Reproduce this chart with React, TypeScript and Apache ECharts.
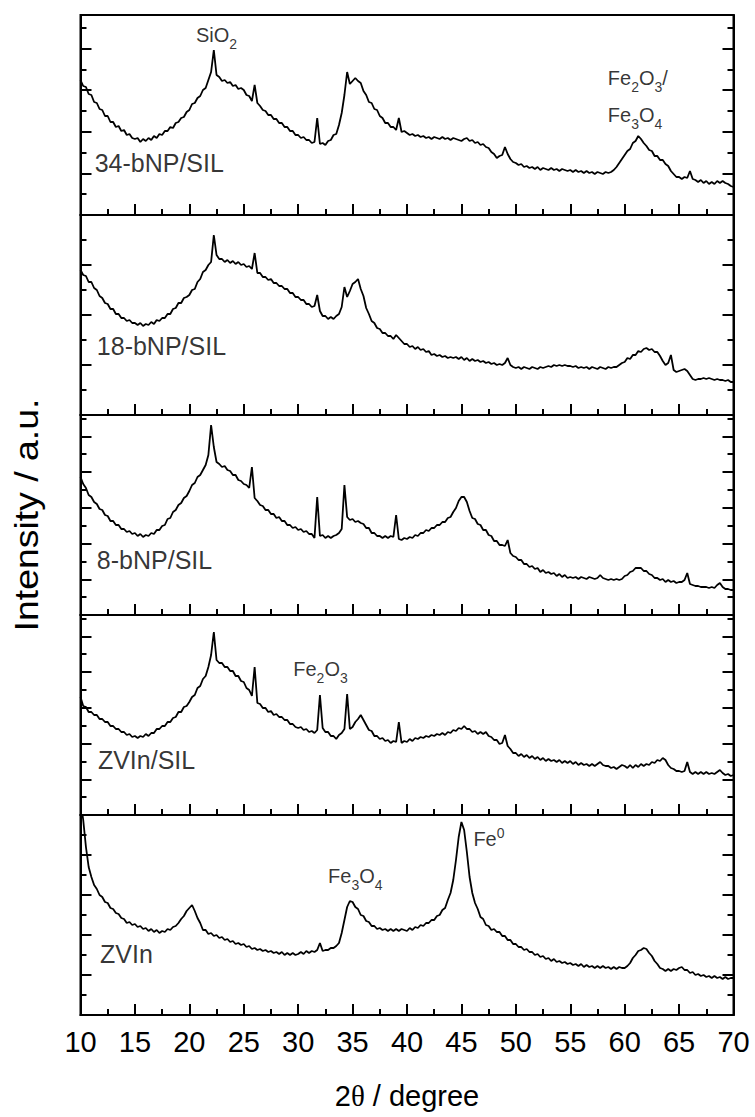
import React, { useEffect, useRef } from "react";
import * as echarts from "echarts";

// 2θ grid: 10° to 70°, step 0.25° (241 points per pattern)
const X_START = 10;
const X_STEP = 0.25;

// Intensities (a.u.), one value per 0.25°
const s34bNP = [
  135, 129, 128, 121, 120, 113, 112, 106, 105, 99, 99, 93, 93, 88, 89, 84, 85, 80, 81, 77,
  76, 77, 73, 76, 74, 77, 75, 79, 77, 81, 80, 84, 84, 88, 87, 92, 93, 97, 98, 103,
  105, 111, 112, 117, 119, 125, 127, 135, 143, 165, 140, 138, 134, 135, 132, 133, 129, 130, 126, 127,
  125, 120, 119, 114, 130, 112, 109, 105, 104, 100, 100, 96, 96, 92, 92, 88, 88, 84, 84, 80,
  80, 77, 78, 75, 75, 72, 73, 97, 71, 72, 70, 74, 75, 80, 81, 90, 102, 120, 143, 131,
  134, 137, 134, 132, 124, 120, 113, 112, 106, 105, 99, 97, 92, 92, 88, 88, 85, 97, 83, 84,
  82, 80, 81, 79, 80, 78, 79, 77, 78, 76, 78, 77, 76, 78, 76, 77, 75, 77, 76, 75,
  74, 76, 77, 74, 75, 72, 73, 70, 71, 68, 67, 63, 61, 57, 59, 60, 68, 61, 56, 53,
  52, 50, 51, 48, 49, 47, 48, 46, 48, 45, 47, 46, 45, 47, 45, 46, 44, 46, 45, 44,
  45, 43, 45, 43, 44, 42, 44, 42, 43, 41, 43, 42, 41, 43, 42, 43, 45, 48, 52, 56,
  60, 64, 66, 72, 74, 79, 76, 72, 69, 65, 64, 59, 59, 55, 55, 51, 49, 44, 41, 38,
  38, 36, 38, 37, 44, 36, 35, 33, 35, 32, 34, 31, 33, 31, 34, 32, 34, 32, 31, 29,
  28,
];

const s18bNP = [
  145, 140, 139, 133, 133, 127, 125, 119, 117, 112, 111, 106, 106, 101, 101, 97, 97, 94, 95, 92,
  92, 90, 92, 89, 91, 90, 93, 91, 95, 94, 97, 97, 101, 101, 106, 107, 112, 112, 117, 118,
  120, 125, 126, 133, 136, 143, 145, 150, 153, 180, 160, 156, 156, 153, 155, 152, 154, 151, 153, 150,
  151, 148, 149, 146, 162, 142, 142, 138, 138, 135, 136, 132, 132, 129, 129, 126, 126, 122, 122, 118,
  118, 115, 115, 111, 111, 108, 109, 120, 104, 99, 99, 96, 98, 96, 99, 101, 108, 128, 118, 124,
  131, 133, 136, 126, 119, 107, 101, 94, 92, 87, 86, 82, 82, 79, 79, 76, 80, 77, 74, 71,
  71, 68, 69, 66, 68, 65, 66, 63, 64, 60, 61, 59, 60, 58, 59, 57, 58, 57, 58, 56,
  58, 55, 57, 54, 56, 54, 55, 53, 54, 52, 53, 51, 52, 50, 51, 50, 52, 57, 50, 48,
  47, 48, 46, 48, 47, 46, 48, 47, 46, 48, 47, 48, 49, 48, 50, 49, 50, 49, 50, 49,
  49, 48, 49, 47, 48, 47, 48, 46, 48, 47, 46, 48, 47, 46, 48, 47, 48, 48, 50, 52,
  53, 57, 56, 60, 60, 64, 63, 66, 67, 65, 66, 63, 63, 59, 54, 50, 52, 60, 45, 43,
  44, 45, 46, 44, 40, 36, 35, 36, 36, 37, 36, 37, 36, 35, 36, 35, 35, 34, 35, 33,
  33,
];

const s8bNP = [
  138, 131, 127, 120, 118, 113, 111, 106, 105, 100, 99, 94, 94, 90, 90, 86, 86, 83, 84, 81,
  82, 79, 81, 78, 80, 79, 82, 81, 85, 85, 89, 90, 96, 97, 103, 105, 110, 112, 117, 119,
  124, 130, 132, 138, 140, 145, 150, 160, 190, 168, 153, 151, 148, 149, 145, 144, 140, 140, 135, 134,
  131, 130, 127, 148, 117, 114, 110, 109, 105, 105, 101, 101, 97, 98, 94, 94, 90, 90, 87, 88,
  85, 86, 83, 84, 81, 81, 77, 118, 79, 80, 77, 79, 77, 79, 80, 82, 86, 130, 98, 95,
  96, 93, 94, 92, 91, 87, 87, 82, 82, 79, 79, 77, 79, 77, 79, 78, 100, 76, 75, 77,
  76, 78, 77, 80, 79, 82, 82, 85, 84, 87, 87, 90, 90, 93, 93, 97, 98, 103, 107, 114,
  118, 118, 113, 104, 97, 96, 91, 90, 85, 85, 80, 79, 74, 74, 70, 70, 69, 75, 62, 59,
  58, 55, 55, 51, 51, 48, 49, 46, 47, 43, 45, 42, 43, 41, 42, 39, 41, 38, 40, 37,
  38, 37, 38, 36, 38, 37, 36, 38, 37, 36, 37, 40, 37, 36, 35, 36, 35, 36, 35, 36,
  39, 40, 43, 44, 47, 47, 47, 44, 44, 41, 40, 37, 37, 35, 36, 33, 35, 33, 34, 32,
  33, 33, 35, 42, 31, 30, 29, 29, 28, 28, 28, 27, 28, 27, 30, 32, 28, 26, 26, 25,
  25,
];

const sZVInSIL = [
  118, 109, 108, 103, 103, 100, 100, 96, 96, 93, 93, 89, 89, 86, 86, 83, 83, 80, 81, 78,
  79, 77, 79, 78, 81, 79, 82, 82, 86, 86, 89, 89, 93, 93, 97, 98, 103, 103, 108, 109,
  113, 118, 120, 127, 129, 136, 139, 148, 160, 183, 155, 152, 152, 148, 148, 144, 144, 139, 139, 134,
  133, 127, 125, 119, 148, 112, 111, 107, 107, 103, 104, 100, 101, 98, 98, 95, 95, 91, 91, 88,
  87, 88, 85, 86, 83, 84, 82, 85, 120, 87, 83, 83, 79, 79, 76, 80, 82, 86, 121, 86,
  88, 93, 96, 100, 95, 90, 85, 84, 79, 79, 76, 77, 74, 75, 72, 74, 73, 93, 72, 74,
  73, 76, 74, 77, 76, 78, 77, 79, 78, 80, 79, 81, 80, 82, 80, 83, 82, 85, 84, 87,
  86, 89, 86, 86, 83, 84, 81, 83, 81, 83, 79, 78, 75, 75, 71, 72, 80, 69, 66, 62,
  62, 59, 61, 58, 60, 57, 59, 56, 58, 55, 57, 54, 56, 54, 55, 53, 55, 52, 54, 52,
  54, 51, 53, 50, 52, 50, 51, 49, 51, 49, 51, 53, 50, 49, 49, 47, 48, 46, 48, 50,
  49, 47, 50, 47, 50, 48, 51, 49, 51, 50, 53, 52, 55, 54, 57, 55, 50, 47, 46, 44,
  44, 43, 44, 53, 43, 41, 43, 41, 43, 41, 43, 41, 42, 41, 43, 45, 42, 40, 41, 39,
  40,
];

const sZVIn = [
  215, 195, 168, 148, 138, 130, 126, 120, 118, 113, 112, 107, 106, 102, 101, 97, 96, 92, 93, 90,
  91, 88, 89, 86, 87, 84, 86, 83, 85, 82, 84, 83, 86, 85, 88, 89, 92, 96, 99, 104,
  107, 110, 104, 97, 92, 85, 85, 81, 82, 79, 80, 77, 78, 75, 76, 73, 74, 71, 72, 70,
  71, 68, 69, 66, 67, 65, 66, 64, 65, 63, 64, 62, 63, 61, 63, 60, 62, 60, 62, 60,
  61, 63, 61, 64, 62, 64, 63, 65, 72, 64, 65, 65, 67, 67, 69, 72, 82, 95, 108, 114,
  113, 108, 106, 100, 99, 94, 93, 89, 89, 86, 87, 85, 86, 84, 86, 84, 86, 84, 86, 85,
  84, 87, 85, 88, 87, 90, 89, 92, 92, 95, 95, 99, 100, 105, 107, 115, 122, 135, 155, 178,
  193, 185, 163, 138, 122, 112, 106, 98, 96, 90, 89, 85, 86, 83, 83, 79, 79, 75, 75, 71,
  71, 68, 68, 65, 66, 63, 63, 60, 61, 58, 59, 56, 57, 54, 56, 53, 54, 52, 53, 51,
  52, 50, 51, 49, 51, 48, 50, 48, 49, 47, 49, 47, 49, 47, 48, 46, 48, 46, 48, 47,
  47, 49, 52, 57, 60, 64, 65, 67, 66, 62, 59, 54, 51, 47, 46, 44, 46, 44, 46, 45,
  47, 48, 45, 45, 42, 43, 40, 41, 39, 40, 38, 39, 37, 39, 37, 38, 36, 38, 36, 37,
  37,
];

// panels, top to bottom
const sampleNames = ["34-bNP/SIL", "18-bNP/SIL", "8-bNP/SIL", "ZVIn/SIL", "ZVIn"];
const patterns = [s34bNP, s18bNP, s8bNP, sZVInSIL, sZVIn];

// x tick labels
const xTicks = [10, 15, 20, 25, 30, 35, 40, 45, 50, 55, 60, 65, 70];

// phase annotations: panel index, 2θ, intensity, text
const phaseNotes = [
  { panel: 0, x: 22.5, y: 180, text: "{m|SiO}{s|2}", align: "center" },
  { panel: 0, x: 58.45, y: 137, text: "{m|Fe}{s|2}{m|O}{s|3}{m|/}", align: "left" },
  { panel: 0, x: 58.45, y: 100, text: "{m|Fe}{s|3}{m|O}{s|4}", align: "left" },
  { panel: 3, x: 29.55, y: 146, text: "{m|Fe}{s|2}{m|O}{s|3}", align: "left" },
  { panel: 4, x: 32.75, y: 139, text: "{m|Fe}{s|3}{m|O}{s|4}", align: "left" },
  { panel: 4, x: 46.1, y: 176, text: "{m|Fe}{p|0}", align: "left" },
];
// sample label anchors (2θ, intensity)
const sampleLabelX = [11.3, 11.5, 11.5, 11.6, 11.8];
const sampleLabelY = [52, 69, 55, 55, 61];

// layout / style
const FONT = "Arial, 'Liberation Sans', Helvetica, sans-serif";
const PANEL_TOP = 15;
const PANEL_H = 200;
const Y_MAX = 200;
const yTickInterval = [41.6, 50, 35.75, 35.75, 40];

export default function App() {
  const ref = useRef<HTMLDivElement>(null);

  useEffect(() => {
    const chart = echarts.init(ref.current!, null, { renderer: "svg" });
    const grid: any[] = [];
    const xAxis: any[] = [];
    const yAxis: any[] = [];
    const series: any[] = [];
    const tickLine = { color: "#000", width: 2 };

    for (let i = 0; i < 5; i++) {
      grid.push({
        left: 80.5,
        right: 21.5,
        top: PANEL_TOP + i * PANEL_H,
        height: PANEL_H,
        show: true,
        borderColor: "#000",
        borderWidth: 2,
        backgroundColor: "transparent",
      });
      const last = i === 4;
      xAxis.push({
        type: "value",
        gridIndex: i,
        min: xTicks[0],
        max: xTicks[xTicks.length - 1],
        interval: 5,
        axisLine: { show: true, lineStyle: tickLine },
        axisTick: { show: true, inside: true, length: 11, lineStyle: tickLine },
        minorTick: { show: true, splitNumber: 2, length: 6, lineStyle: tickLine },
        splitLine: { show: false },
        axisLabel: {
          show: last,
          fontSize: 29,
          color: "#000",
          fontFamily: FONT,
          margin: 12,
          showMinLabel: true,
          showMaxLabel: true,
        },
        name: last ? "2{t|θ} / degree" : "",
        nameLocation: "middle",
        nameGap: 66,
        nameTextStyle: {
          fontSize: 29,
          color: "#000",
          fontFamily: FONT,
          rich: { t: { fontSize: 29, fontFamily: "'Liberation Serif', 'Times New Roman', serif", color: "#000" } },
        },
      });
      const yCommon = {
        type: "value",
        gridIndex: i,
        min: 0,
        max: Y_MAX,
        interval: yTickInterval[i],
        axisLabel: { show: false },
        splitLine: { show: false },
        axisTick: { show: true, inside: true, length: 11, lineStyle: tickLine },
        minorTick: { show: true, splitNumber: 2, length: 6, lineStyle: tickLine },
      };
      yAxis.push({ ...yCommon, position: "left", axisLine: { show: true, lineStyle: tickLine } });
      yAxis.push({ ...yCommon, position: "right", axisLine: { show: true, lineStyle: tickLine } });

      series.push({
        type: "line",
        name: sampleNames[i],
        xAxisIndex: i,
        yAxisIndex: i * 2,
        data: patterns[i].map((v, k) => [X_START + k * X_STEP, v]),
        showSymbol: false,
        symbol: "none",
        lineStyle: { color: "#000", width: 1.8 },
        clip: true,
        silent: true,
      });

      const notes = phaseNotes.filter((n) => n.panel === i);
      const labelData: any[] = [
        {
          value: [sampleLabelX[i], sampleLabelY[i]],
          label: {
            show: true,
            position: "inside",
            align: "left",
            verticalAlign: "middle",
            formatter: sampleNames[i],
            fontSize: 25,
            fontFamily: FONT,
            color: "#000",
          },
        },
      ];
      notes.forEach((n) => {
        labelData.push({
          value: [n.x, n.y],
          label: {
            show: true,
            position: "inside",
            align: n.align,
            verticalAlign: "middle",
            formatter: n.text,
            color: "#000",
            fontFamily: FONT,
            rich: {
              m: { fontSize: 20, fontFamily: FONT, color: "#000" },
              s: { fontSize: 14, fontFamily: FONT, color: "#000", padding: [18, 0, 0, 0] },
              p: { fontSize: 14, fontFamily: FONT, color: "#000", padding: [0, 0, 12, 0] },
            },
          },
        });
      });
      series.push({
        type: "scatter",
        xAxisIndex: i,
        yAxisIndex: i * 2,
        symbolSize: 1,
        itemStyle: { color: "rgba(0,0,0,0)" },
        silent: true,
        data: labelData,
      });
    }

    chart.setOption({
      animation: false,
      backgroundColor: "#fff",
      grid,
      xAxis,
      yAxis,
      series,
      graphic: [
        {
          type: "text",
          x: 27,
          y: PANEL_TOP + (PANEL_H * 5) / 2,
          rotation: Math.PI / 2,
          scaleX: 1.1,
          style: {
            text: "Intensity / a.u.",
            fontSize: 34,
            fontFamily: FONT,
            fill: "#000",
            align: "center",
            verticalAlign: "middle",
          },
        },
      ],
    });
    return () => chart.dispose();
  }, []);

  return (
    <div
      ref={ref}
      style={{ position: "absolute", left: 0, top: 0, width: 755, height: 1117, background: "#fff" }}
    />
  );
}
